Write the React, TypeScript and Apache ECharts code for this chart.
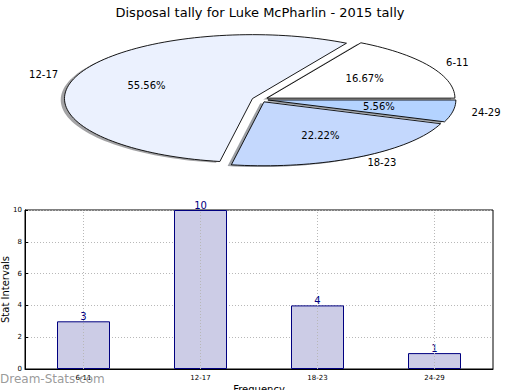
import React, { useEffect, useRef } from "react";
import * as echarts from "echarts";

const title = "Disposal tally for Luke McPharlin - 2015 tally";
const categories = ["6-11", "12-17", "18-23", "24-29"];
const counts = [3, 10, 4, 1];
const pieColors = ["#ffffff", "#ebf1fe", "#c4d8fd", "#b4d3ff"];
const yAxisName = "Stat Intervals";
const xAxisName = "Frequency";
const watermark = "Dream-Stats.com";

const FONT = "DejaVu Sans";
// pie geometry (screen px)
const PCX = 260;
const PCY = 99.5;
const PR = 188;
const PK = 0.34;
const EXPLODE = 8;

const total = counts.reduce((a, b) => a + b, 0);
const cum: number[] = [];
counts.reduce((acc, v, i) => {
  cum[i] = acc;
  return acc + v;
}, 0);

function wedgePoints(i: number, v: number, dx: number, dy: number) {
  const a0 = (cum[i] / total) * 360;
  const a1 = a0 + (v / total) * 360;
  const mid = ((a0 + a1) / 2) * (Math.PI / 180);
  const ox = EXPLODE * Math.cos(mid);
  const oy = -EXPLODE * PK * Math.sin(mid);
  const cx = PCX + ox + dx;
  const cy = PCY + oy + dy;
  const pts: number[][] = [[cx, cy]];
  const n = Math.max(8, Math.ceil((a1 - a0) / 2));
  for (let s = 0; s <= n; s++) {
    const a = ((a0 + ((a1 - a0) * s) / n) * Math.PI) / 180;
    pts.push([cx + PR * Math.cos(a), cy - PR * PK * Math.sin(a)]);
  }
  return { pts, mid, cx, cy };
}

function shade(hex: string) {
  const r = parseInt(hex.slice(1, 3), 16);
  const g = parseInt(hex.slice(3, 5), 16);
  const b = parseInt(hex.slice(5, 7), 16);
  return `rgba(${Math.round(r * 0.3)},${Math.round(g * 0.3)},${Math.round(b * 0.3)},0.5)`;
}

export default function App() {
  const ref = useRef<HTMLDivElement>(null);
  useEffect(() => {
    if (!ref.current) return;
    const chart = echarts.init(ref.current, undefined, { renderer: "svg" });
    const option: any = {
      animation: false,
      backgroundColor: "#ffffff",
      textStyle: { fontFamily: FONT },
      title: {
        text: title,
        left: "center",
        top: 1,
        textStyle: { fontFamily: FONT, fontSize: 13, fontWeight: "normal", color: "#000" },
      },
      grid: {
        left: 25,
        right: 27,
        top: 210,
        bottom: 21,
        outerBoundsMode: "none",
        containLabel: false,
        show: true,
        borderColor: "#000",
        borderWidth: 1,
        backgroundColor: "transparent",
      },
      xAxis: {
        type: "category",
        data: categories,
        name: xAxisName,
        nameLocation: "middle",
        nameGap: 15,
        nameMoveOverlap: false,
        nameTextStyle: { fontFamily: FONT, fontSize: 10, color: "#000" },
        axisLine: { show: true, lineStyle: { color: "#000" } },
        axisTick: { show: false },
        axisLabel: { fontFamily: FONT, fontSize: 7, color: "#000", margin: 5 },
        splitLine: { show: false },
      },
      yAxis: {
        type: "value",
        min: 0,
        max: 10,
        interval: 2,
        name: yAxisName,
        nameLocation: "middle",
        nameGap: 15,
        nameMoveOverlap: false,
        nameTextStyle: { fontFamily: FONT, fontSize: 10, color: "#000" },
        axisLine: { show: true, lineStyle: { color: "#000" } },
        axisTick: { show: true, inside: true, length: 3, lineStyle: { color: "#000" } },
        axisLabel: { fontFamily: FONT, fontSize: 7, color: "#000", margin: 3 },
        splitLine: { show: true, lineStyle: { color: "#b8b8b8", type: [1, 2], width: 1 } },
      },
      series: [
        {
          type: "custom",
          coordinateSystem: "none",
          silent: true,
          z: 1,
          data: counts,
          renderItem: (params: any, api: any) => {
            const i = params.dataIndex;
            const v = api.value(0);
            const { pts } = wedgePoints(i, v, -0.02 * PR, 0.02 * PR * PK);
            return {
              type: "polygon",
              shape: { points: pts },
              style: { fill: shade(pieColors[i]), stroke: "none" },
            };
          },
        },
        {
          type: "custom",
          coordinateSystem: "none",
          silent: true,
          z: 2,
          data: counts,
          renderItem: (params: any, api: any) => {
            const i = params.dataIndex;
            const v = api.value(0);
            const { pts, mid, cx, cy } = wedgePoints(i, v, 0, 0);
            const c = Math.cos(mid);
            const s = Math.sin(mid);
            const lx = cx + 1.1 * PR * c;
            const ly = cy - 1.1 * PR * PK * s;
            const px = cx + 0.6 * PR * c;
            const py = cy - 0.6 * PR * PK * s;
            return {
              type: "group",
              children: [
                {
                  type: "polygon",
                  shape: { points: pts },
                  style: { fill: pieColors[i], stroke: "#000", lineWidth: 0.9 },
                },
                {
                  type: "text",
                  x: lx,
                  y: ly,
                  style: {
                    text: categories[i],
                    fill: "#000",
                    fontFamily: FONT,
                    fontSize: 10,
                    align: c > 0 ? "left" : "right",
                    verticalAlign: "middle",
                  },
                },
                {
                  type: "text",
                  x: px,
                  y: py,
                  style: {
                    text: ((v / total) * 100).toFixed(2) + "%",
                    fill: "#000",
                    fontFamily: FONT,
                    fontSize: 10,
                    align: "center",
                    verticalAlign: "middle",
                  },
                },
              ],
            };
          },
        },
        {
          type: "bar",
          data: counts,
          barWidth: 53,
          z: 3,
          itemStyle: { color: "#ccccE6", borderColor: "#000080", borderWidth: 1 },
          label: {
            show: true,
            position: "top",
            distance: 0,
            fontFamily: FONT,
            fontSize: 10,
            color: "#000080",
          },
          markLine: {
            silent: true,
            symbol: "none",
            label: { show: false },
            lineStyle: { color: "#b8b8b8", type: [1, 2], width: 1 },
            data: categories.map((c) => ({ xAxis: c })),
          },
        },
      ],
      graphic: [
        {
          type: "text",
          left: 0,
          top: 373,
          z: 100,
          style: {
            text: watermark,
            fill: "rgba(128,128,128,0.8)",
            fontFamily: FONT,
            fontSize: 12,
          },
        },
      ],
    };
    chart.setOption(option);
    return () => chart.dispose();
  }, []);
  return (
    <div
      ref={ref}
      style={{ position: "fixed", left: 0, top: 0, width: 520, height: 390 }}
    />
  );
}
